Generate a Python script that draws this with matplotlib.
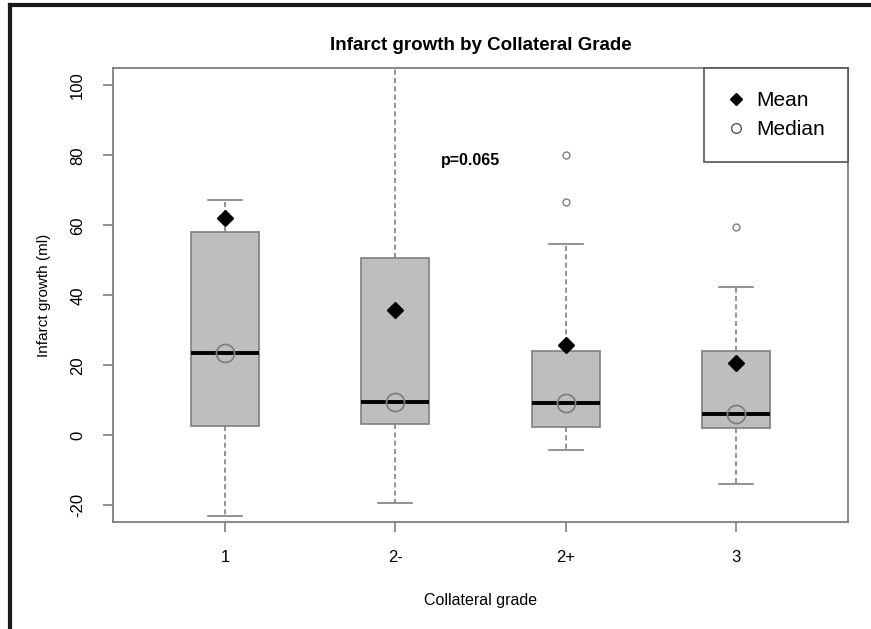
import matplotlib
matplotlib.use("Agg")
import matplotlib.pyplot as plt
from matplotlib.lines import Line2D

plt.rcParams['font.family'] = ['Liberation Sans', 'DejaVu Sans']

grades = ["1", "2-", "2+", "3"]
whislo = [-23.2, -19.4, -4.3, -14.0]
q1 = [2.6, 3.3, 2.4, 2.0]
medians = [23.6, 9.4, 9.1, 6.0]
q3 = [58.0, 50.6, 24.2, 24.0]
whishi = [67.4, 118.0, 54.8, 42.5]
means = [62.0, 35.7, 25.7, 20.6]
outliers = [[], [], [66.6, 80.0], [59.5]]

GRAY = "#7f7f7f"

fig = plt.figure(figsize=(8.71, 6.29), dpi=100)
ax = fig.add_axes([0.1297, 0.1701, 0.8439, 0.7218])

stats = []
for i in range(len(grades)):
    stats.append(dict(whislo=whislo[i], q1=q1[i], med=medians[i], q3=q3[i],
                      whishi=whishi[i], fliers=outliers[i], label=grades[i]))

pos = list(range(1, len(grades) + 1))
ax.bxp(stats, positions=pos, widths=0.4, patch_artist=True, showfliers=True,
       boxprops=dict(facecolor="#bebebe", edgecolor=GRAY, linewidth=1.2),
       medianprops=dict(color="black", linewidth=2.8),
       whiskerprops=dict(color=GRAY, linestyle=(0, (3, 2)), linewidth=1.2),
       capprops=dict(color=GRAY, linewidth=1.2),
       capwidths=0.2,
       flierprops=dict(marker="o", markersize=5, markerfacecolor="none",
                       markeredgecolor=GRAY, markeredgewidth=1.0))

# mean and median markers
ax.plot(pos, means, linestyle="none", marker="D", markersize=8,
        color="black", zorder=5)
ax.plot(pos, medians, linestyle="none", marker="o", markersize=13,
        markerfacecolor="none", markeredgecolor=GRAY, markeredgewidth=1.3, zorder=5)

ax.set_xlim(0.34, 4.66)
ax.set_ylim(-24.8, 105)
ax.set_xticks(pos)
ax.set_xticklabels(grades, fontsize=12)
ax.set_yticks([-20, 0, 20, 40, 60, 80, 100])
ax.set_yticklabels(["-20", "0", "20", "40", "60", "80", "100"], fontsize=12,
                   rotation=90, va="center")
ax.tick_params(axis="both", color=GRAY, length=7, width=1.2)
ax.tick_params(axis="x", pad=13)
ax.tick_params(axis="y", pad=13)
for s in ax.spines.values():
    s.set_color(GRAY)
    s.set_linewidth(1.3)

ax.set_title("Infarct growth by Collateral Grade", fontsize=13.5, fontweight="bold", pad=13)
ax.set_xlabel("Collateral grade", fontsize=11.5, labelpad=20)
ax.set_ylabel("Infarct growth (ml)", fontsize=11, labelpad=14)

ax.text(2.44, 78.5, "p=0.065", fontsize=11.5, fontweight="bold", ha="center", va="center")

handles = [
    Line2D([], [], linestyle="none", marker="D", markersize=6, color="black"),
    Line2D([], [], linestyle="none", marker="o", markersize=7,
           markerfacecolor="none", markeredgecolor="#555555"),
]
leg = ax.legend(handles, ["Mean", "Median"], loc="upper right", borderaxespad=0,
                fontsize=15, fancybox=False, framealpha=1, handlelength=0.8,
                handletextpad=0.6, borderpad=1.1, labelspacing=0.5)
leg.get_frame().set_edgecolor("#555555")
leg.get_frame().set_linewidth(1.2)

# outer frame
fig.add_artist(Line2D([0.0115, 0.0115], [0, 0.992], transform=fig.transFigure,
                      color="#1a1a1a", linewidth=3))
fig.add_artist(Line2D([0.0115, 1.0], [0.992, 0.992], transform=fig.transFigure,
                      color="#1a1a1a", linewidth=3))

fig.savefig("out.png", dpi=100)
